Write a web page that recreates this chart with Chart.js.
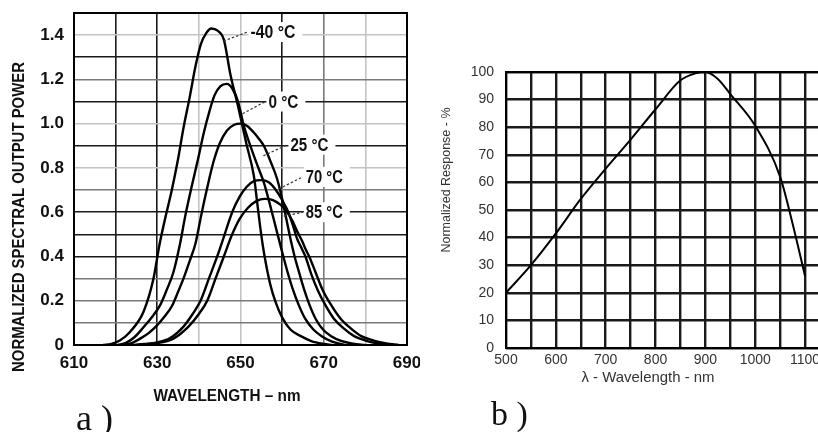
<!DOCTYPE html>
<html><head><meta charset="utf-8">
<script src="https://cdn.jsdelivr.net/npm/chart.js@4.4.0/dist/chart.umd.min.js"></script>
<style>
html,body{margin:0;padding:0;background:#fff;}
body{width:818px;height:432px;overflow:hidden;position:relative;}
#ca{position:absolute;left:0;top:0;}
#cb{position:absolute;left:420px;top:0;}
.lab{position:absolute;font-family:'Liberation Serif','DejaVu Serif',serif;color:#111;white-space:pre;}
</style></head><body>
<canvas id="ca" width="420" height="432"></canvas>
<canvas id="cb" width="440" height="432"></canvas>
<div class="lab" style="left:76px;top:400px;font-size:36px;line-height:36px;">a )</div>
<div class="lab" style="left:491px;top:397px;font-size:34px;line-height:34px;">b )</div>
<script>
// ---------- Chart a data: normalized spectral output power vs wavelength ----------
const tempLabels = ['-40 °C','0 °C','25 °C','70 °C','85 °C'];
const wlM40 = [617,619,621,623.5,626.7,629.1,630.5,632,633.5,635,636.3,637.8,639.2,640.5,641.8,643,644.5,646,647.6,649.4,651.4,653.2,654.1,654.9,655.7,657.2,658.5,660,662,664.5,667,670,672];
const pwM40 = [0,0.005,0.02,0.06,0.15,0.30,0.45,0.58,0.70,0.84,0.98,1.12,1.26,1.36,1.41,1.43,1.42,1.38,1.22,1.08,0.91,0.765,0.63,0.51,0.41,0.27,0.19,0.125,0.07,0.04,0.018,0.005,0];
const wl0 = [620.5,622.5,624.5,626.7,628.7,630.7,632.3,633.9,635.5,636.7,638.2,639.8,641.2,642.6,643.8,645.2,646.7,648,649.4,650.8,652,653.2,654.4,655.6,657,658.5,660,661.3,662.6,664,665.5,667.5,669.5,672,675];
const pw0 = [0,0.01,0.035,0.08,0.125,0.18,0.25,0.33,0.46,0.58,0.71,0.84,0.96,1.06,1.13,1.17,1.18,1.16,1.10,0.99,0.92,0.856,0.795,0.735,0.64,0.53,0.42,0.33,0.25,0.18,0.12,0.07,0.04,0.015,0];
const wl25 = [622,624,626,628,630,631.8,633.5,635,636.5,637.8,639.2,640.5,642,643.4,645,646.8,648.5,650,651.6,653.2,654.5,655.6,657.2,658.8,660,661,662,663,664.2,665.3,666.6,668,669.8,671.8,674,677,680];
const pw25 = [0,0.01,0.03,0.055,0.09,0.13,0.175,0.24,0.31,0.38,0.46,0.58,0.71,0.82,0.91,0.97,0.995,1.0,0.99,0.96,0.93,0.90,0.83,0.75,0.66,0.57,0.48,0.40,0.32,0.25,0.18,0.12,0.07,0.04,0.02,0.006,0];
const wl70 = [624,627,630,633,636.3,638.5,640.4,642.4,644.4,646.2,648,649.8,651.5,653.2,655,656.8,658.5,660,661.5,662.6,663.6,664.6,665.6,667,668.5,670.4,672.4,674.8,677.3,680,683,686];
const pw70 = [0,0.005,0.012,0.03,0.083,0.14,0.20,0.30,0.40,0.50,0.60,0.67,0.715,0.74,0.745,0.735,0.70,0.655,0.60,0.54,0.48,0.44,0.40,0.32,0.25,0.18,0.12,0.075,0.04,0.02,0.007,0];
const wl85 = [625,628,631,634,637.5,640,642,644,646,648,649.8,651.8,653.8,655.8,657.8,659.5,661,662.5,663.7,664.8,665.7,666.5,668,669.7,671.8,674,676.5,679,682,685,688];
const pw85 = [0,0.005,0.012,0.03,0.083,0.14,0.20,0.30,0.40,0.50,0.57,0.62,0.65,0.66,0.655,0.635,0.605,0.56,0.51,0.47,0.43,0.40,0.33,0.25,0.18,0.12,0.075,0.04,0.02,0.007,0];
// label anchors (data units): text left edge / leader start on curve
const labelWl = [652.4,656.7,662,665.7,665.7];
const labelPw = [1.414,1.10,0.905,0.76,0.60];
const leaderWl = [645.9,650.5,655.5,659.2,660.4];
const leaderPw = [1.373,1.045,0.855,0.705,0.582];
const xTicksA = [610,630,650,670,690];
const yTicksA = [0,0.2,0.4,0.6,0.8,1.0,1.2,1.4];

// ---------- Chart b data: normalized response vs wavelength ----------
const wlB = [500,550,600,650,700,750,800,850,880,900,925,950,1000,1050,1075,1100];
const respB = [20,30,41.5,54,65,75.5,86.5,97,99.5,100,97.5,92,80.5,62,45,26];
const xTicksB = [500,600,700,800,900,1000,1100];

// ---------- helpers ----------
const BOLDF = "'Liberation Sans',Arial,sans-serif";
const SANS = "'Liberation Sans',Arial,'DejaVu Sans',sans-serif";
function pts(xs, ys){ return xs.map((x,i)=>({x:x, y:ys[i]})); }
function drawFit(ctx, text, cx, cy, w, font, color, rot, align){
  ctx.save(); ctx.font = font; ctx.fillStyle = color; ctx.textAlign = align || 'center'; ctx.textBaseline='middle';
  ctx.translate(cx, cy); if (rot) ctx.rotate(rot);
  const m = ctx.measureText(text).width; ctx.scale(w/m, 1); ctx.fillText(text, 0, 0); ctx.restore();
}
const shade = {d:'#1a1a1a', m:'#7a7a7a', l:'#c4c4c4'};
const vShade = {620:'d',630:'d',640:'l',650:'l',660:'d',670:'m',680:'l'};
const hShade = {1:'m',2:'m',3:'m',4:'d',5:'d',6:'d',7:'m',8:'l',9:'d',10:'l',11:'d',12:'m',13:'d',14:'l'};
const labelW = [45,30,38,37,37];

function ds(xs, ys, w){
  return {data: pts(xs, ys), borderColor:'#000', borderWidth:w, pointRadius:0, fill:false,
          cubicInterpolationMode:'monotone'};
}
function noPadY(s, w){ s.width = w; s.paddingTop = 0; s.paddingBottom = 0; }
function noPadX(s, h){ s.height = h; s.paddingLeft = 0; s.paddingRight = 0; }

const frame = {
  id:'frame',
  afterDraw(chart){
    const {ctx, chartArea:a} = chart;
    ctx.save(); ctx.strokeStyle='#000'; ctx.lineWidth=2;
    ctx.strokeRect(a.left, a.top, a.right-a.left, a.bottom-a.top); ctx.restore();
  }
};

const annotA = {
  id:'annotA',
  afterDatasetsDraw(chart){
    const {ctx, scales:{x, y}} = chart;
    ctx.save();
    for (let i=0;i<tempLabels.length;i++){
      const tx = x.getPixelForValue(labelWl[i]), ty = y.getPixelForValue(labelPw[i]);
      ctx.fillStyle='#fff'; ctx.fillRect(tx-2, ty-10, labelW[i]+9, 20);
      ctx.setLineDash([2.5,2]); ctx.lineWidth=1.2; ctx.strokeStyle='#333';
      ctx.beginPath();
      ctx.moveTo(x.getPixelForValue(leaderWl[i]), y.getPixelForValue(leaderPw[i]));
      ctx.lineTo(tx-3, ty); ctx.stroke(); ctx.setLineDash([]);
      drawFit(ctx, tempLabels[i], tx, ty+1, labelW[i], `bold 18px ${BOLDF}`, '#111', 0, 'left');
    }
    ctx.restore();
  },
  afterDraw(chart){
    const ctx = chart.ctx;
    drawFit(ctx, 'NORMALIZED SPECTRAL OUTPUT POWER', 19, 217, 310, `bold 17px ${BOLDF}`, '#111', -Math.PI/2);
    drawFit(ctx, 'WAVELENGTH – nm', 227, 396, 147, `bold 17px ${BOLDF}`, '#111', 0);
  }
};

new Chart(document.getElementById('ca'), {
  type:'line',
  data:{ datasets:[ds(wlM40,pwM40,2.4), ds(wl0,pw0,2.4), ds(wl25,pw25,2.4), ds(wl70,pw70,2.4), ds(wl85,pw85,2.4)] },
  options:{
    responsive:false, animation:false, devicePixelRatio:1,
    layout:{padding:{top:13,right:13,left:0,bottom:0}},
    plugins:{legend:{display:false}, tooltip:{enabled:false}},
    scales:{
      x:{type:'linear', min:610, max:690,
         afterFit: s=>noPadX(s, 87),
         ticks:{stepSize:10, autoSkip:false, maxRotation:0, padding:8, color:'#111',
                font:{family:BOLDF, size:17, weight:'bold'},
                callback: v => xTicksA.includes(Math.round(v)) ? String(Math.round(v)) : ''},
         grid:{drawTicks:false, lineWidth:1.6,
               color: c => shade[vShade[Math.round(c.tick.value)]] || '#000'},
         border:{display:false}},
      y:{type:'linear', min:0, max:1.5,
         afterFit: s=>noPadY(s, 74),
         ticks:{stepSize:0.1, autoSkip:false, padding:10, color:'#111',
                font:{family:BOLDF, size:17, weight:'bold'},
                callback: v => { const k = Math.round(v*10);
                  if (!yTicksA.some(t => Math.round(t*10)===k)) return '';
                  return k===0 ? '0' : (k/10).toFixed(1); }},
         grid:{drawTicks:false, lineWidth:1.6,
               color: c => shade[hShade[Math.round(c.tick.value*10)]] || '#000'},
         border:{display:false}}
    }
  },
  plugins:[annotA, frame]
});

const annotB = {
  id:'annotB',
  afterDraw(chart){
    const ctx = chart.ctx;
    drawFit(ctx, 'Normalized Response - %', 26, 180, 145, `13px ${SANS}`, '#333', -Math.PI/2);
    drawFit(ctx, 'λ - Wavelength - nm', 228, 378, 133, `15px ${SANS}`, '#333', 0);
  }
};

new Chart(document.getElementById('cb'), {
  type:'line',
  data:{ datasets:[ds(wlB, respB, 2)] },
  options:{
    responsive:false, animation:false, devicePixelRatio:1,
    layout:{padding:{top:72,right:30,left:0,bottom:0}},
    plugins:{legend:{display:false}, tooltip:{enabled:false}},
    scales:{
      x:{type:'linear', min:500, max:1150,
         afterFit: s=>noPadX(s, 84),
         ticks:{stepSize:50, autoSkip:false, maxRotation:0, padding:4, color:'#333',
                font:{family:SANS, size:14},
                callback: v => xTicksB.includes(Math.round(v)) ? String(Math.round(v)) : ''},
         grid:{drawTicks:false, lineWidth:2.4, color:'#1a1a1a'},
         border:{display:false}},
      y:{type:'linear', min:0, max:100,
         afterFit: s=>noPadY(s, 86),
         ticks:{stepSize:10, autoSkip:false, padding:12, color:'#333',
                font:{family:SANS, size:14}},
         grid:{drawTicks:false, lineWidth:2.4, color:'#1a1a1a'},
         border:{display:false}}
    }
  },
  plugins:[annotB, frame]
});
</script>
</body></html>
